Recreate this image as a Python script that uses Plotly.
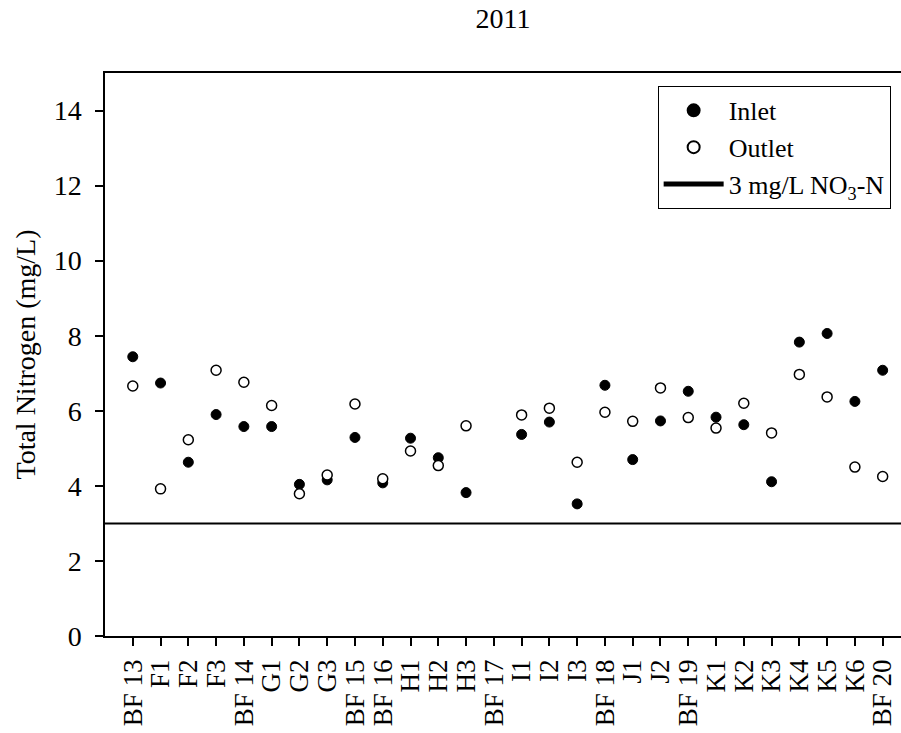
import plotly.graph_objects as go

categories = ["BF 13", "F1", "F2", "F3", "BF 14", "G1", "G2", "G3", "BF 15", "BF 16",
              "H1", "H2", "H3", "BF 17", "I1", "I2", "I3", "BF 18", "J1", "J2",
              "BF 19", "K1", "K2", "K3", "K4", "K5", "K6", "BF 20"]
inlet = [7.44, 6.74, 4.63, 5.90, 5.58, 5.58, 4.04, 4.16, 5.29, 4.08,
         5.27, 4.75, 3.82, None, 5.37, 5.70, 3.52, 6.68, 4.70, 5.73,
         6.52, 5.83, 5.63, 4.11, 7.83, 8.06, 6.25, 7.08]
outlet = [6.66, 3.92, 5.23, 7.08, 6.76, 6.14, 3.79, 4.29, 6.18, 4.19,
          4.93, 4.54, 5.60, None, 5.89, 6.07, 4.63, 5.96, 5.72, 6.61,
          5.82, 5.54, 6.20, 5.41, 6.97, 6.37, 4.50, 4.25]
threshold = 3
y_ticks = [0, 2, 4, 6, 8, 10, 12, 14]

FONT = "Liberation Serif, Times New Roman, serif"

fig = go.Figure()
fig.add_trace(go.Scatter(x=categories, y=inlet, mode="markers", name="Inlet",
                         marker=dict(symbol="circle", size=10, color="black",
                                     line=dict(color="black", width=1))))
fig.add_trace(go.Scatter(x=categories, y=outlet, mode="markers", name="Outlet",
                         marker=dict(symbol="circle", size=10, color="white",
                                     line=dict(color="black", width=1.5))))
fig.add_shape(type="line", xref="paper", x0=0, x1=1, yref="y", y0=threshold, y1=threshold,
              line=dict(color="black", width=2), showlegend=True,
              name="3 mg/L NO<sub>3</sub>-N")

fig.update_layout(
    width=901, height=733,
    margin=dict(l=105, r=0, t=73, b=97),
    paper_bgcolor="white", plot_bgcolor="white",
    font=dict(family=FONT, size=27, color="black"),
    title=dict(text="2011", x=0.5, xref="paper", y=1 - 18 / 733, yref="container",
               yanchor="middle", xanchor="center", font=dict(size=28)),
    showlegend=True,
    legend=dict(x=0.987, y=0.977, xanchor="right", yanchor="top",
                bgcolor="white", bordercolor="black", borderwidth=1,
                font=dict(size=26), tracegroupgap=0, itemsizing="constant",
                itemwidth=60),
    xaxis=dict(type="category", range=[-1, 27.66], showgrid=False, zeroline=False,
               tickmode="array", tickvals=categories, ticktext=categories,
               showline=True, linecolor="black", linewidth=1.5, mirror=True,
               ticks="outside", ticklen=8, tickwidth=1.5, tickcolor="black",
               tickangle=-90, tickfont=dict(size=27), ticklabelstandoff=3),
    yaxis=dict(range=[0, 15], tickvals=y_ticks, showgrid=False, zeroline=False,
               showline=True, linecolor="black", linewidth=1.5,
               ticks="outside", ticklen=8, tickwidth=1.5, tickcolor="black",
               tickfont=dict(size=28), ticklabelstandoff=8,
               title=dict(text="Total Nitrogen (mg/L)", font=dict(size=28), standoff=10)),
)

fig.write_html("out.html")
